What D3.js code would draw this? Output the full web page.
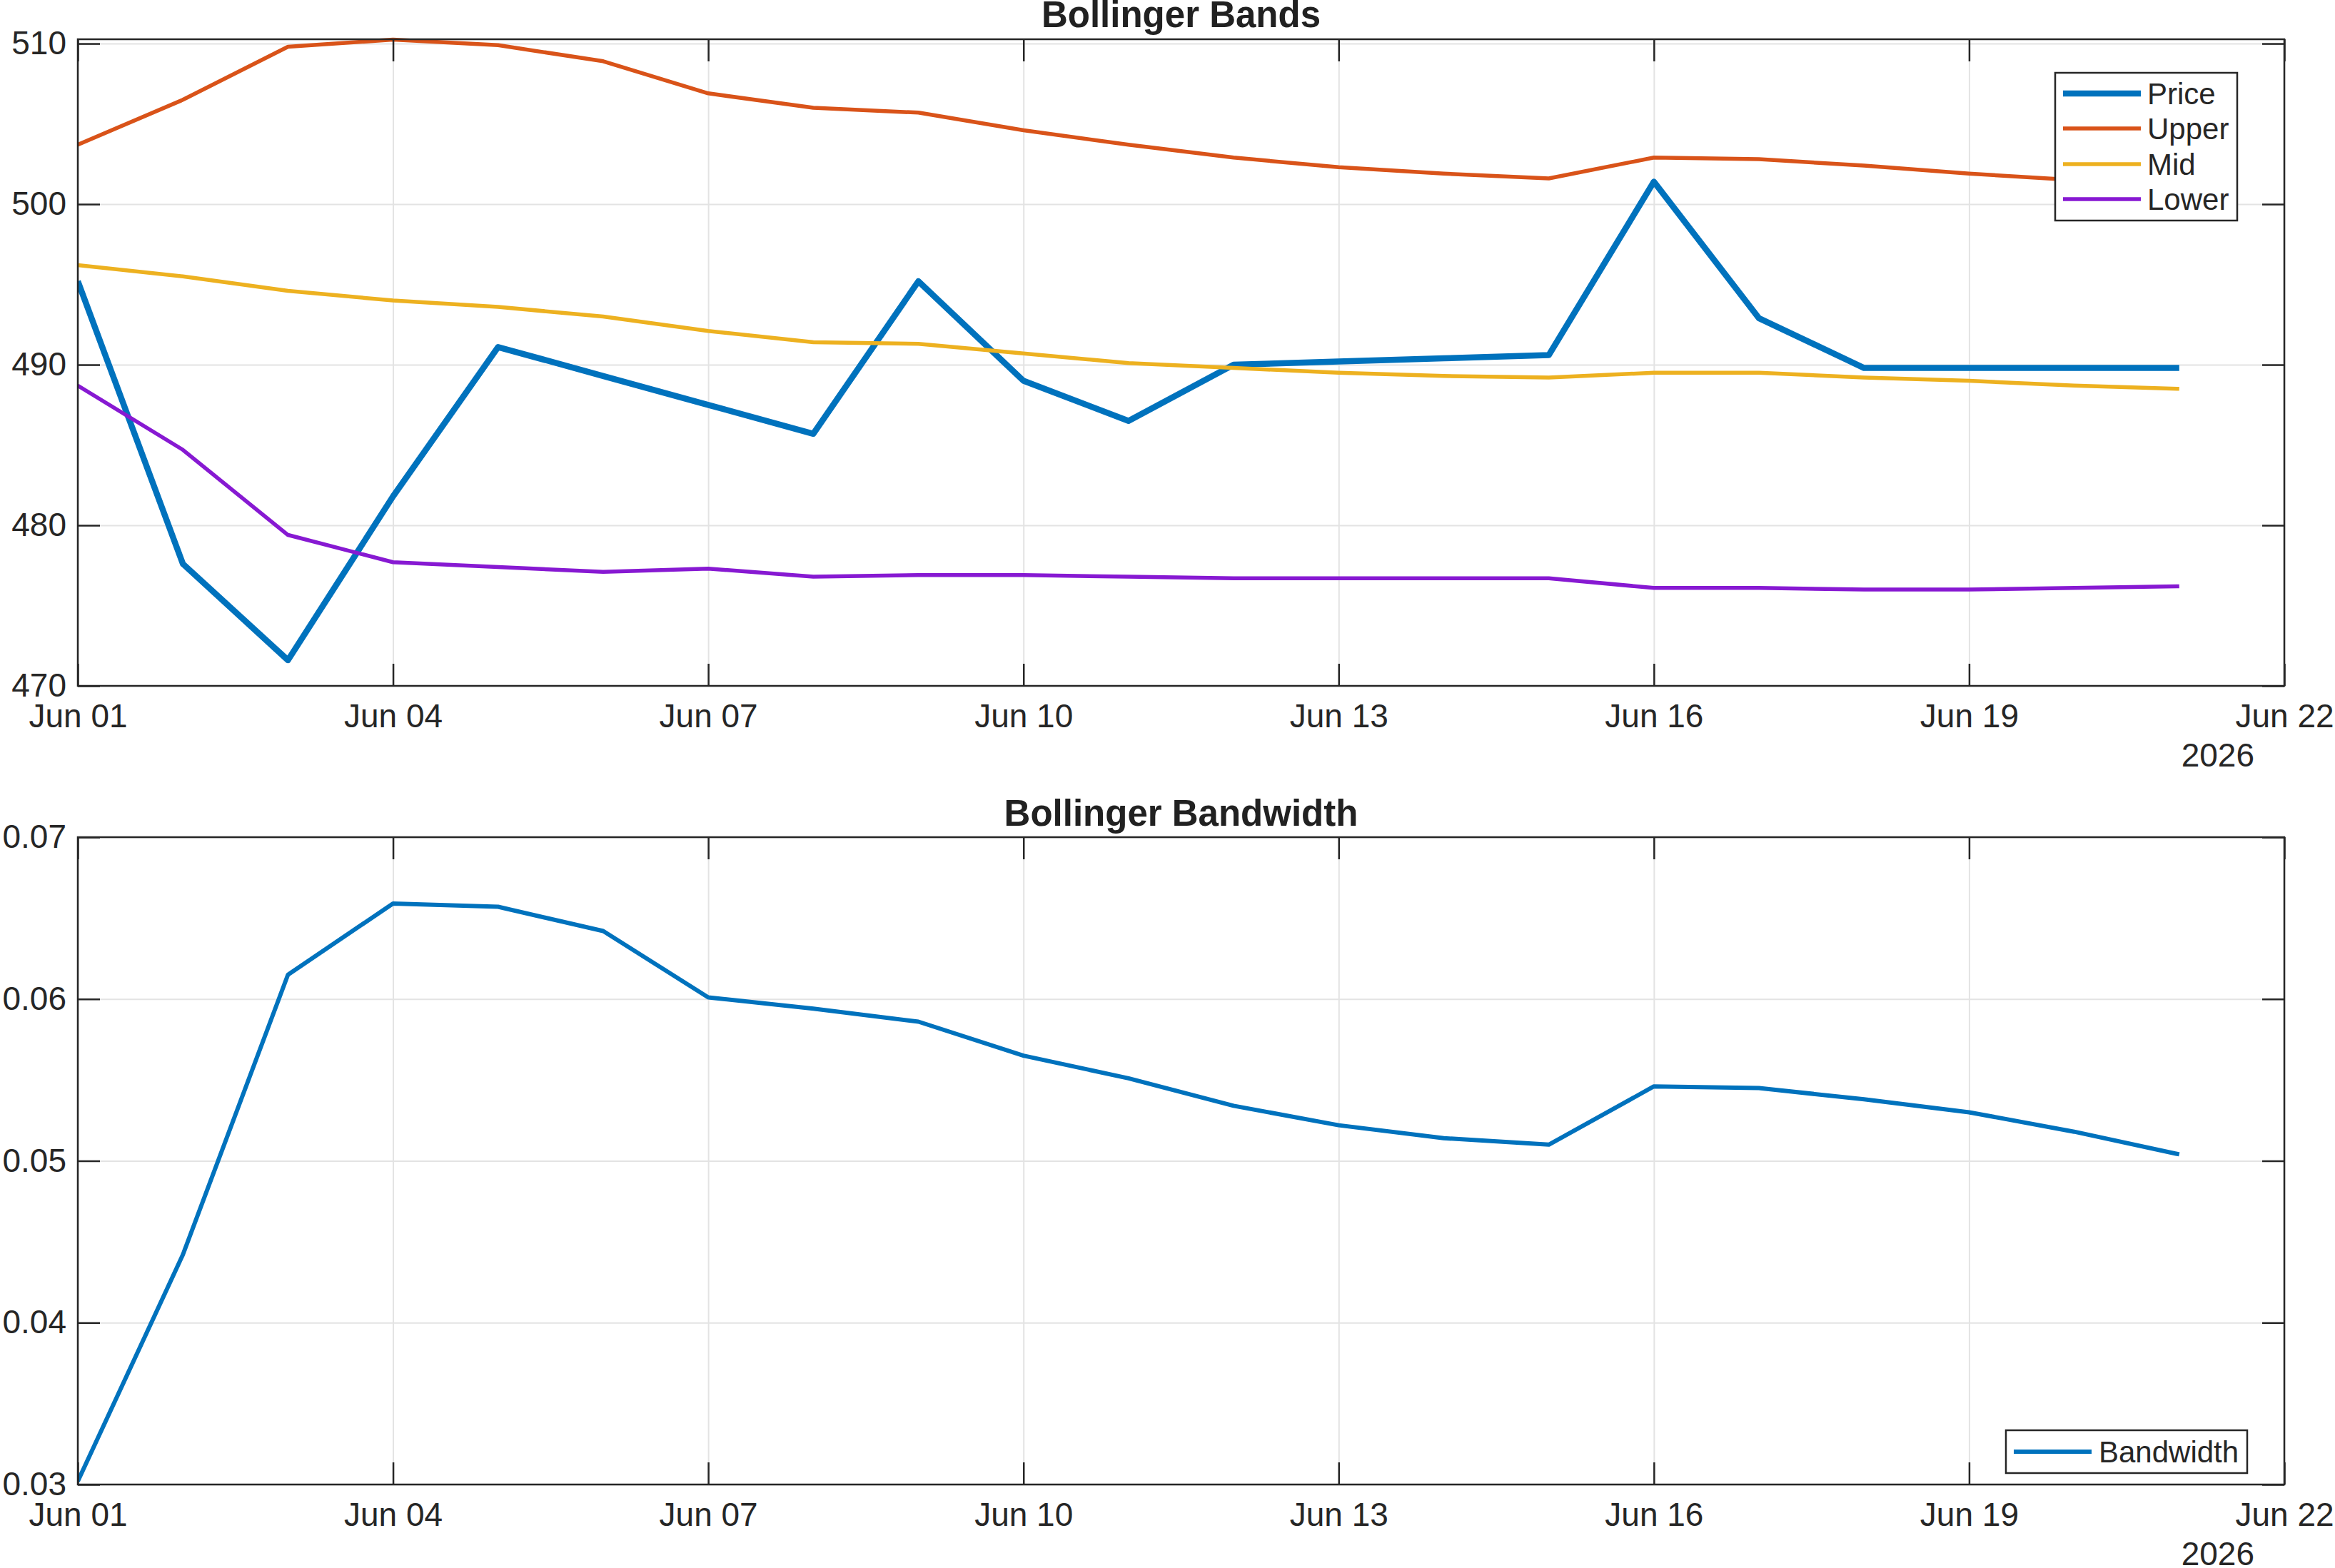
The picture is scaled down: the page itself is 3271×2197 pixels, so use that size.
<!DOCTYPE html>
<html>
<head>
<meta charset="utf-8">
<script src="https://cdn.jsdelivr.net/npm/d3@7"></script>
<style>
  html, body { margin: 0; padding: 0; background: #ffffff; }
  svg { display: block; font-family: "Liberation Sans", Arial, Helvetica, sans-serif; }
</style>
</head>
<body>
<svg id="chart" width="3271" height="2197"></svg>
<script>
// ---------------- data ----------------
const dates = ["2026-06-01","2026-06-02","2026-06-03","2026-06-04","2026-06-05","2026-06-06","2026-06-07",
  "2026-06-08","2026-06-09","2026-06-10","2026-06-11","2026-06-12","2026-06-13","2026-06-14",
  "2026-06-15","2026-06-16","2026-06-17","2026-06-18","2026-06-19","2026-06-20","2026-06-21"];
const price = [495.2,477.6,471.6,481.8,491.1,489.3,487.5,485.7,495.2,489.0,486.5,490.0,490.2,490.4,
  490.6,501.4,492.9,489.8,489.8,489.8,489.8];
const upper = [503.7,506.5,509.8,510.25,509.9,508.9,506.9,506.0,505.7,504.6,503.7,502.9,502.3,501.9,
  501.6,502.9,502.8,502.4,501.9,501.5,500.9];
const mid = [496.2,495.5,494.6,494.0,493.6,493.0,492.1,491.4,491.3,490.7,490.1,489.8,489.5,489.3,
  489.2,489.5,489.5,489.2,489.0,488.7,488.5];
const lower = [488.7,484.7,479.4,477.7,477.4,477.1,477.3,476.8,476.9,476.9,476.8,476.7,476.7,476.7,
  476.7,476.1,476.1,476.0,476.0,476.1,476.2];
const bandwidth = [0.0302,0.0442,0.0615,0.0659,0.0657,0.0642,0.0601,0.0594,0.0586,0.0565,0.0551,0.0534,
  0.0522,0.0514,0.0510,0.0546,0.0545,0.0538,0.0530,0.0518,0.0504];
const xTicks = ["2026-06-01","2026-06-04","2026-06-07","2026-06-10","2026-06-13","2026-06-16","2026-06-19","2026-06-22"];
const xLimit = ["2026-06-01","2026-06-22"];
const yTicksTop = [470,480,490,500,510];
const yLimTop = [470,510.27];
const yTicksBottom = [0.03,0.04,0.05,0.06,0.07];
const yLimBottom = [0.03,0.07];
const yearLabel = "2026";
const seriesTop = [
  {name:"Price", values: price, color:"#0072BD", width:8.5},
  {name:"Upper", values: upper, color:"#D95319", width:5.5},
  {name:"Mid",   values: mid,   color:"#EDB120", width:5.5},
  {name:"Lower", values: lower, color:"#8719D2", width:5.5}
];

// ---------------- layout ----------------
const parse = d3.utcParse("%Y-%m-%d");
const fmt = d3.utcFormat("%b %d");
const L = 109, R = 3200;
const panels = [
  {top:55, bottom:961, title:"Bollinger Bands", titleY:38, yLim:yLimTop, yTicks:yTicksTop, yFmt:d3.format("d")},
  {top:1173, bottom:2080, title:"Bollinger Bandwidth", titleY:1157, yLim:yLimBottom, yTicks:yTicksBottom, yFmt:d3.format(".2f")}
];
const axisColor = "#262626";
const gridColor = "#e3e3e3";
const tickFont = 46;
const tickLen = 31;

const svg = d3.select("#chart");
const x = d3.scaleUtc().domain(xLimit.map(parse)).range([L, R]);

function drawPanel(p) {
  const y = d3.scaleLinear().domain(p.yLim).range([p.bottom, p.top]);
  const g = svg.append("g");
  const h = p.bottom - p.top, w = R - L;

  g.append("g").attr("transform", `translate(0,${p.bottom})`)
    .call(d3.axisBottom(x).tickValues(xTicks.map(parse)).tickSize(-h).tickFormat(""))
    .call(s => { s.select(".domain").remove(); s.selectAll("line").attr("stroke", gridColor).attr("stroke-width", 2); });
  g.append("g").attr("transform", `translate(${L},0)`)
    .call(d3.axisLeft(y).tickValues(p.yTicks).tickSize(-w).tickFormat(""))
    .call(s => { s.select(".domain").remove(); s.selectAll("line").attr("stroke", gridColor).attr("stroke-width", 2); });

  const clipId = "clip" + p.top;
  svg.append("clipPath").attr("id", clipId).append("rect")
    .attr("x", L).attr("y", p.top - 4).attr("width", w).attr("height", h + 8);

  return {g, y, clipId};
}

function drawFrame(p, y, g) {
  const h = p.bottom - p.top, w = R - L;
  g.append("g").attr("transform", `translate(0,${p.bottom})`)
    .call(d3.axisBottom(x).tickValues(xTicks.map(parse)).tickSizeInner(-tickLen).tickSizeOuter(0)
      .tickPadding(25).tickFormat(fmt))
    .call(s => {
      s.select(".domain").remove();
      s.selectAll("line").attr("stroke", axisColor).attr("stroke-width", 2.5);
      s.selectAll("text").attr("fill", axisColor).attr("font-size", tickFont)
        .attr("font-family", "'Liberation Sans', Arial, sans-serif");
    });
  g.append("g").attr("transform", `translate(0,${p.top})`)
    .call(d3.axisTop(x).tickValues(xTicks.map(parse)).tickSizeInner(-tickLen).tickSizeOuter(0).tickFormat(""))
    .call(s => { s.select(".domain").remove(); s.selectAll("line").attr("stroke", axisColor).attr("stroke-width", 2.5); });
  g.append("g").attr("transform", `translate(${L},0)`)
    .call(d3.axisLeft(y).tickValues(p.yTicks).tickSizeInner(-tickLen).tickSizeOuter(0)
      .tickPadding(16).tickFormat(p.yFmt))
    .call(s => {
      s.select(".domain").remove();
      s.selectAll("line").attr("stroke", axisColor).attr("stroke-width", 2.5);
      s.selectAll("text").attr("fill", axisColor).attr("font-size", tickFont)
        .attr("font-family", "'Liberation Sans', Arial, sans-serif");
    });
  g.append("g").attr("transform", `translate(${R},0)`)
    .call(d3.axisRight(y).tickValues(p.yTicks).tickSizeInner(-tickLen).tickSizeOuter(0).tickFormat(""))
    .call(s => { s.select(".domain").remove(); s.selectAll("line").attr("stroke", axisColor).attr("stroke-width", 2.5); });
  g.append("rect").attr("x", L).attr("y", p.top).attr("width", w).attr("height", h)
    .attr("fill", "none").attr("stroke", axisColor).attr("stroke-width", 2.5);
  g.append("text").attr("x", 3158).attr("y", p.bottom + 113).attr("text-anchor", "end")
    .attr("font-size", tickFont).attr("fill", axisColor).text(yearLabel);
  g.append("text").attr("x", (L + R) / 2).attr("y", p.titleY).attr("text-anchor", "middle")
    .attr("font-size", 51).attr("font-weight", "bold").attr("fill", "#212121").text(p.title);
}

const dts = dates.map(parse);

// ---- top panel ----
const P1 = drawPanel(panels[0]);
const lines1 = P1.g.append("g").attr("clip-path", `url(#${P1.clipId})`);
seriesTop.forEach(s => {
  const line = d3.line().x((d, i) => x(dts[i])).y(d => P1.y(d));
  lines1.append("path").datum(s.values).attr("d", line)
    .attr("fill", "none").attr("stroke", s.color).attr("stroke-width", s.width)
    .attr("stroke-linejoin", "round");
});
drawFrame(panels[0], P1.y, P1.g);

const lg1 = P1.g.append("g");
lg1.append("rect").attr("x", 2879).attr("y", 102).attr("width", 255).attr("height", 207)
  .attr("fill", "#ffffff").attr("stroke", axisColor).attr("stroke-width", 2.5);
const rowY = [131, 180, 230, 279];
seriesTop.forEach((s, i) => {
  lg1.append("line").attr("x1", 2890).attr("x2", 2999).attr("y1", rowY[i]).attr("y2", rowY[i])
    .attr("stroke", s.color).attr("stroke-width", s.width);
  lg1.append("text").attr("x", 3008).attr("y", rowY[i]).attr("dy", "0.35em")
    .attr("font-size", 42).attr("fill", axisColor).text(s.name);
});

// ---- bottom panel ----
const P2 = drawPanel(panels[1]);
const lines2 = P2.g.append("g").attr("clip-path", `url(#${P2.clipId})`);
lines2.append("path").datum(bandwidth)
  .attr("d", d3.line().x((d, i) => x(dts[i])).y(d => P2.y(d)))
  .attr("fill", "none").attr("stroke", "#0072BD").attr("stroke-width", 6).attr("stroke-linejoin", "round");
drawFrame(panels[1], P2.y, P2.g);

const lg2 = P2.g.append("g");
lg2.append("rect").attr("x", 2810).attr("y", 2004).attr("width", 338).attr("height", 60)
  .attr("fill", "#ffffff").attr("stroke", axisColor).attr("stroke-width", 2.5);
lg2.append("line").attr("x1", 2821).attr("x2", 2930).attr("y1", 2034).attr("y2", 2034)
  .attr("stroke", "#0072BD").attr("stroke-width", 6);
lg2.append("text").attr("x", 2940).attr("y", 2034).attr("dy", "0.35em")
  .attr("font-size", 42).attr("fill", axisColor).text("Bandwidth");
</script>
</body>
</html>
